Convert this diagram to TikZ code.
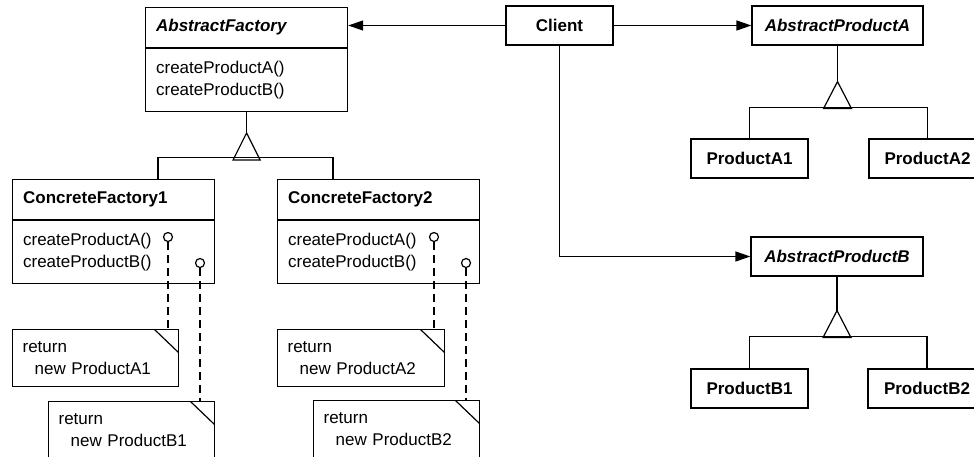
\documentclass[tikz,border=0pt]{standalone}
\usepackage{fontspec}
\setmainfont{Liberation Sans}
\usepackage{tikz}
\usetikzlibrary{arrows.meta}

\newcommand{\umlsize}{\fontsize{17}{21.5}\selectfont}

\begin{document}
\begin{tikzpicture}[x=1pt, y=-1pt, line width=1.2pt,
  head/.style={draw, anchor=north west, minimum height=40pt, inner xsep=10.5pt, text width=181pt, align=left, font=\umlsize\bfseries},
  ops/.style={draw, anchor=north west, minimum height=62.5pt, inner xsep=10.5pt, text width=181pt, align=left, font=\umlsize},
  cls/.style={draw, minimum height=39pt, font=\umlsize\bfseries},
  note/.style={draw, anchor=north west, minimum height=57pt, inner xsep=10pt, text width=146pt, align=left, font=\umlsize,
    path picture={\draw ([xshift=-24pt]path picture bounding box.north east) -- ([yshift=-23pt]path picture bounding box.north east);}},
  pin/.style={circle, draw, minimum size=9pt, inner sep=0pt},
  uses/.style={-{Triangle[length=15pt, width=10pt]}},
  link/.style={dash pattern=on 8pt off 5pt}]
\useasboundingbox (0,0) rectangle (974,456);
\clip (0,0) rectangle (974,456);

\node(AF)[head, font=\umlsize\bfseries\itshape] at (145,7) {AbstractFactory};
\node(AFops)[ops] at (AF.south west) {createProductA()\\createProductB()};

\node(CF1)[head] at (12,179) {ConcreteFactory1};
\node(CF1ops)[ops] at (CF1.south west) {createProductA()\\createProductB()};
\node(CF2)[head] at (277,179) {ConcreteFactory2};
\node(CF2ops)[ops] at (CF2.south west) {createProductA()\\createProductB()};

\node(Client)[cls, minimum width=107pt] at (559.5,25.5) {Client};
\node(APA)[cls, minimum width=171pt, font=\umlsize\bfseries\itshape] at (837.5,25.5) {AbstractProductA};
\node(PA1)[cls, minimum width=117pt] at (749.5,158.5) {ProductA1};
\node(PA2)[cls, minimum width=117pt] at (927.5,158.5) {ProductA2};
\node(APB)[cls, minimum width=172pt, font=\umlsize\bfseries\itshape] at (837,256.5) {AbstractProductB};
\node(PB1)[cls, minimum width=117pt] at (749.5,388.5) {ProductB1};
\node(PB2)[cls, minimum width=118pt] at (927,388.5) {ProductB2};

\node(pA1)[pin] at (168,237) {};
\node(pB1)[pin] at (200,263) {};
\node(pA2)[pin] at (434,237) {};
\node(pB2)[pin] at (466,263) {};

\node(nA1)[note] at (12,329) {return\\\hspace*{12pt}new ProductA1};
\node(nB1)[note] at (48,401) {return\\\hspace*{12pt}new ProductB1};
\node(nA2)[note, text width=147pt] at (277,329) {return\\\hspace*{12pt}new ProductA2};
\node(nB2)[note] at (313,400) {return\\\hspace*{12pt}new ProductB2};

\draw[link] (pA1) -- (pA1 |- nA1.north);
\draw[link] (pB1) -- (pB1 |- nB1.north);
\draw[link] (pA2) -- (pA2 |- nA2.north);
\draw[link] (pB2) -- (pB2 |- nB2.north);

% inheritance
\draw (AFops.south) -- ++(0,21) coordinate (tAF);
\draw (tAF) -- ++(-13.5,27) -- ++(27,0) -- cycle;
\draw ([xshift=146pt]CF1.north west) -- ++(0,-21.5) -| ([xshift=56pt]CF2.north west);

\draw (APA.south) -- ++(0,36) coordinate (tAPA);
\draw (tAPA) -- ++(-14,27) -- ++(28,0) -- cycle;
\draw (PA1.north) -- ++(0,-31) -| (PA2.north);

\draw (APB.south) -- ++(0,34) coordinate (tAPB);
\draw (tAPB) -- ++(-14,27) -- ++(28,0) -- cycle;
\draw (PB1.north) -- ++(0,-32) -| (PB2.north);

\draw[uses] (Client.west) -- (Client.west -| AF.east);
\draw[uses] (Client.east) -- (APA.west);
\draw[uses] (Client.south) |- (APB.west);
\end{tikzpicture}
\end{document}
